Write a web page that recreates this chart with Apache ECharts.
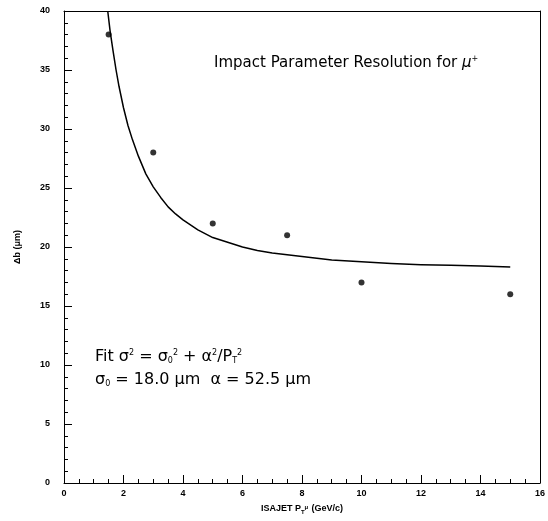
<!DOCTYPE html>
<html>
<head>
<meta charset="utf-8">
<script src="https://cdn.jsdelivr.net/npm/echarts@6/dist/echarts.min.js"></script>
<style>html,body{margin:0;padding:0;background:#fff;}#c{width:548px;height:521px;}</style>
</head>
<body>
<div id="c"></div>
<script>
// Measured points
const dataPt = [1.5, 3, 5, 7.5, 10, 15];
const dataRes = [38, 28, 22, 21, 17, 16];
// Fit curve
const fitPt = [1.47, 1.55, 1.65, 1.75, 1.85, 2.0, 2.15, 2.3, 2.5, 2.75, 3, 3.25, 3.5, 3.75, 4, 4.5, 5, 5.5, 6, 6.5, 7, 8, 9, 10, 11, 12, 13, 14, 15];
const fitRes = [40, 38.3, 36.6, 35.0, 33.6, 31.8, 30.3, 29.1, 27.7, 26.2, 25.1, 24.2, 23.4, 22.8, 22.3, 21.45, 20.8, 20.4, 20.0, 19.7, 19.5, 19.2, 18.9, 18.75, 18.6, 18.5, 18.45, 18.4, 18.3];
// Axis settings
const xTicks = [0, 2, 4, 6, 8, 10, 12, 14, 16];
const yTicks = [0, 5, 10, 15, 20, 25, 30, 35, 40];

const chart = echarts.init(document.getElementById('c'), null, {renderer: 'canvas'});
const tickFont = {fontFamily: 'Liberation Sans, Arial, sans-serif', fontWeight: 'bold', fontSize: 9, color: '#000'};
const txtFont = '"DejaVu Sans", sans-serif';
const frameAxis = {
  type: 'value', axisLine: {show: true, onZero: false, lineStyle: {color: '#000', width: 1}},
  axisTick: {show: false}, axisLabel: {show: false}, splitLine: {show: false}
};

chart.setOption({
  animation: false,
  backgroundColor: '#fff',
  grid: {left: 64, right: 4, top: 11, bottom: 38, show: false},
  xAxis: [{
    type: 'value', min: xTicks[0], max: xTicks[xTicks.length - 1], interval: 2,
    axisLine: {show: true, onZero: false, lineStyle: {color: '#000', width: 1}},
    axisTick: {show: true, inside: true, length: 8, lineStyle: {color: '#000', width: 1}},
    minorTick: {show: true, splitNumber: 4, length: 4, lineStyle: {color: '#000', width: 1}},
    splitLine: {show: false},
    minorSplitLine: {show: false},
    axisLabel: Object.assign({show: true, margin: 6}, tickFont),
    name: '{b|ISAJET P}{sub|T}{sup|μ} {b|(GeV/c)}',
    nameLocation: 'middle', nameGap: 19,
    nameTextStyle: {
      rich: {
        b: {fontFamily: 'Liberation Sans, Arial, sans-serif', fontWeight: 'bold', fontSize: 9, color: '#000'},
        sub: {fontFamily: 'Liberation Sans, Arial, sans-serif', fontWeight: 'bold', fontSize: 6, color: '#000', padding: [6, 0, 0, 0]},
        sup: {fontFamily: 'Liberation Sans, Arial, sans-serif', fontWeight: 'bold', fontSize: 6, color: '#000', padding: [0, 0, 4, 0]}
      }
    }
  }, Object.assign({position: 'top', min: xTicks[0], max: xTicks[xTicks.length - 1]}, frameAxis)],
  yAxis: [{
    type: 'value', min: yTicks[0], max: yTicks[yTicks.length - 1], interval: 5,
    axisLine: {show: true, onZero: false, lineStyle: {color: '#000', width: 1}},
    axisTick: {show: true, inside: true, length: 8, lineStyle: {color: '#000', width: 1}},
    minorTick: {show: true, splitNumber: 5, length: 4, lineStyle: {color: '#000', width: 1}},
    splitLine: {show: false},
    minorSplitLine: {show: false},
    axisLabel: Object.assign({show: true, margin: 14}, tickFont),
    name: 'Δb (μm)', nameLocation: 'middle', nameGap: 42,
    nameTextStyle: tickFont
  }, Object.assign({position: 'right', min: yTicks[0], max: yTicks[yTicks.length - 1]}, frameAxis)],
  series: [
    {
      type: 'line', data: fitPt.map((x, i) => [x, fitRes[i]]),
      smooth: false, showSymbol: false, clip: true,
      lineStyle: {color: '#000', width: 1.5, join: 'round'}
    },
    {
      type: 'scatter', data: dataPt.map((x, i) => [x, dataRes[i]]),
      symbol: 'circle', symbolSize: 6, itemStyle: {color: '#000'}
    }
  ],
  graphic: [
    {
      type: 'text', left: 214, top: 55,
      style: {
        text: 'Impact Parameter Resolution for {i|μ}{sup|+}',
        font: '15px ' + txtFont, fill: '#000',
        rich: {
          i: {fontFamily: txtFont, fontStyle: 'italic', fontSize: 15, fill: '#000'},
          sup: {fontFamily: txtFont, fontSize: 8, fill: '#000', padding: [0, 0, 8, 0]}
        }
      }
    },
    {
      type: 'text', left: 95, top: 349,
      style: {
        text: 'Fit σ{sup|2} = σ{sub|0}{sup|2} + α{sup|2}/P{sub|T}{sup|2}',
        font: '16px ' + txtFont, fill: '#000',
        rich: {
          sup: {fontFamily: txtFont, fontSize: 8, fill: '#000', padding: [0, 0, 8, 0]},
          sub: {fontFamily: txtFont, fontSize: 8, fill: '#000', padding: [8, 0, 0, 0]}
        }
      }
    },
    {
      type: 'text', left: 95, top: 372,
      style: {
        text: 'σ{sub|0} = 18.0 μm  α = 52.5 μm',
        font: '16px ' + txtFont, fill: '#000',
        rich: {
          sub: {fontFamily: txtFont, fontSize: 8, fill: '#000', padding: [8, 0, 0, 0]}
        }
      }
    }
  ]
});
</script>
</body>
</html>
